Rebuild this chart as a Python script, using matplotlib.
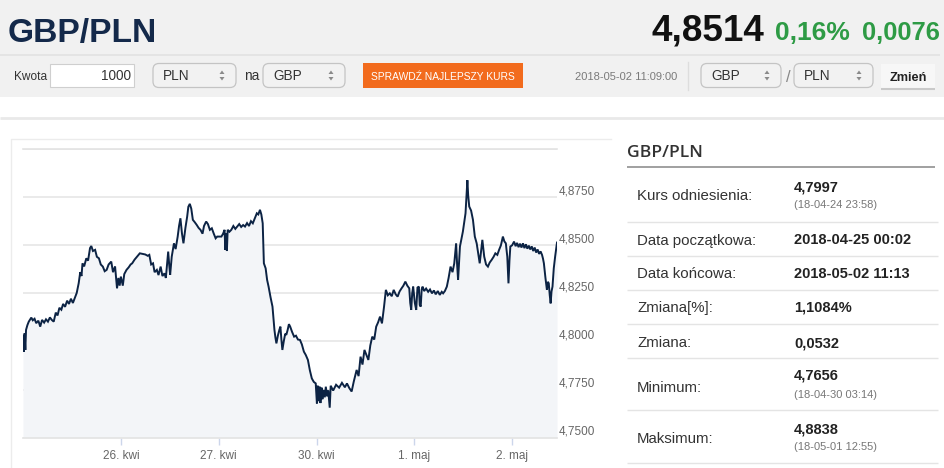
import matplotlib
matplotlib.use("Agg")
import matplotlib.pyplot as plt
from matplotlib.patches import Rectangle, FancyBboxPatch, Polygon
from matplotlib.transforms import ScaledTranslation, blended_transform_factory

# ---------------- data ----------------
pair = "GBP/PLN"
last_rate = "4,8514"
change_pct = "0,16%"
change_abs = "0,0076"
timestamp = "2018-05-02 11:09:00"

# time positions in trading days on the ordinal axis (0 = 25 Apr 00:00) and GBP/PLN rates, per day
pos_apr25 = [0.000, 0.008, 0.016, 0.024, 0.031, 0.045, 0.059, 0.085, 0.100, 0.118,
             0.135, 0.157, 0.176, 0.195, 0.216, 0.235, 0.255, 0.275, 0.294, 0.314,
             0.335, 0.353, 0.372, 0.392, 0.410, 0.430, 0.451, 0.470, 0.490, 0.510,
             0.529, 0.549, 0.569, 0.585, 0.598, 0.608, 0.625, 0.647, 0.665, 0.685,
             0.698, 0.715, 0.737, 0.755, 0.776, 0.795, 0.816, 0.835, 0.855, 0.875,
             0.902, 0.920, 0.941, 0.951, 0.961, 0.975, 0.988]
rate_apr25 = [4.8025, 4.7947, 4.8042, 4.7956, 4.8060, 4.8085, 4.8103, 4.8124, 4.8110, 4.8118,
              4.8095, 4.8108, 4.8077, 4.8112, 4.8098, 4.8115, 4.8103, 4.8125, 4.8112, 4.8103,
              4.8150, 4.8135, 4.8175, 4.8165, 4.8195, 4.8180, 4.8212, 4.8195, 4.8222, 4.8200,
              4.8225, 4.8252, 4.8302, 4.8360, 4.8340, 4.8406, 4.8390, 4.8432, 4.8420, 4.8485,
              4.8496, 4.8470, 4.8476, 4.8440, 4.8432, 4.8400, 4.8389, 4.8365, 4.8372, 4.8400,
              4.8415, 4.8360, 4.8390, 4.8330, 4.8276, 4.8330, 4.8290]

pos_apr26 = [1.000, 1.020, 1.035, 1.058, 1.080, 1.100, 1.116, 1.140, 1.165, 1.194,
             1.220, 1.250, 1.275, 1.291, 1.310, 1.329, 1.345, 1.368, 1.385, 1.407,
             1.425, 1.446, 1.460, 1.472, 1.484, 1.494, 1.504, 1.520, 1.543, 1.560,
             1.581, 1.595, 1.609, 1.625, 1.640, 1.660, 1.678, 1.690, 1.705, 1.720,
             1.736, 1.755, 1.775, 1.795, 1.814, 1.835, 1.850, 1.872, 1.890, 1.910,
             1.930, 1.950, 1.969, 1.985]
rate_apr26 = [4.8337, 4.8290, 4.8350, 4.8372, 4.8385, 4.8400, 4.8406, 4.8425, 4.8440, 4.8458,
              4.8455, 4.8452, 4.8445, 4.8450, 4.8400, 4.8406, 4.8360, 4.8372, 4.8345, 4.8389,
              4.8340, 4.8354, 4.8330, 4.8400, 4.8467, 4.8400, 4.8346, 4.8440, 4.8510, 4.8480,
              4.8545, 4.8600, 4.8640, 4.8560, 4.8510, 4.8590, 4.8649, 4.8700, 4.8715, 4.8690,
              4.8632, 4.8620, 4.8606, 4.8590, 4.8580, 4.8560, 4.8600, 4.8623, 4.8610, 4.8580,
              4.8588, 4.8560, 4.8536, 4.8545]

pos_apr27 = [2.028, 2.045, 2.060, 2.068, 2.076, 2.084, 2.092, 2.110, 2.129, 2.150,
             2.170, 2.189, 2.210, 2.230, 2.250, 2.269, 2.290, 2.310, 2.330, 2.349,
             2.370, 2.390, 2.405, 2.422, 2.436, 2.450, 2.462, 2.480, 2.495, 2.510,
             2.530, 2.550, 2.560, 2.570, 2.580, 2.590, 2.605, 2.620, 2.631, 2.641,
             2.651, 2.665, 2.680, 2.691, 2.705, 2.718, 2.731, 2.750, 2.771, 2.790,
             2.810, 2.831, 2.850, 2.871, 2.890, 2.912, 2.932, 2.952, 2.972, 2.992]
rate_apr27 = [4.8545, 4.8560, 4.8580, 4.8476, 4.8560, 4.8470, 4.8580, 4.8570, 4.8580, 4.8600,
              4.8585, 4.8597, 4.8610, 4.8595, 4.8605, 4.8597, 4.8615, 4.8600, 4.8625, 4.8614,
              4.8640, 4.8666, 4.8660, 4.8684, 4.8660, 4.8614, 4.8406, 4.8380, 4.8320, 4.8285,
              4.8230, 4.8181, 4.8120, 4.8060, 4.8020, 4.7990, 4.8030, 4.8060, 4.8077, 4.8010,
              4.7956, 4.8000, 4.8040, 4.8034, 4.8060, 4.8090, 4.8077, 4.8050, 4.8025, 4.8030,
              4.8010, 4.8008, 4.7985, 4.7947, 4.7930, 4.7904, 4.7850, 4.7808, 4.7790, 4.7782]

pos_apr30 = [3.004, 3.012, 3.020, 3.032, 3.040, 3.052, 3.060, 3.072, 3.085, 3.095,
             3.108, 3.120, 3.135, 3.145, 3.170, 3.200, 3.231, 3.260, 3.290, 3.311,
             3.335, 3.359, 3.380, 3.410, 3.430, 3.450, 3.470, 3.490, 3.510, 3.530,
             3.550, 3.570, 3.590, 3.610, 3.630, 3.649, 3.669, 3.690, 3.709, 3.729,
             3.749, 3.769, 3.789, 3.809, 3.829, 3.849, 3.869, 3.888, 3.908, 3.928,
             3.948, 3.958, 3.968, 3.978, 3.988]
rate_apr30 = [4.7678, 4.7770, 4.7690, 4.7765, 4.7680, 4.7760, 4.7700, 4.7748, 4.7710, 4.7765,
              4.7715, 4.7745, 4.7656, 4.7770, 4.7745, 4.7775, 4.7760, 4.7785, 4.7762, 4.7782,
              4.7758, 4.7740, 4.7790, 4.7852, 4.7820, 4.7921, 4.7880, 4.7956, 4.7930, 4.7904,
              4.7980, 4.8025, 4.8010, 4.8077, 4.8100, 4.8129, 4.8094, 4.8180, 4.8268, 4.8240,
              4.8250, 4.8235, 4.8268, 4.8245, 4.8233, 4.8260, 4.8276, 4.8290, 4.8311, 4.8290,
              4.8276, 4.8200, 4.8164, 4.8250, 4.8285]

pos_may1 = [4.005, 4.019, 4.032, 4.046, 4.055, 4.065, 4.075, 4.084, 4.100, 4.120,
            4.141, 4.160, 4.180, 4.200, 4.218, 4.240, 4.260, 4.280, 4.294, 4.312,
            4.332, 4.350, 4.370, 4.390, 4.408, 4.427, 4.437, 4.447, 4.466, 4.480,
            4.496, 4.510, 4.523, 4.533, 4.542, 4.550, 4.561, 4.580, 4.599, 4.618,
            4.637, 4.652, 4.668, 4.682, 4.695, 4.705, 4.714, 4.733, 4.752, 4.770,
            4.790, 4.810, 4.828, 4.848, 4.866, 4.885, 4.905, 4.920, 4.935, 4.950,
            4.962, 4.972, 4.981]
rate_may1 = [4.8200, 4.8164, 4.8280, 4.8285, 4.8190, 4.8181, 4.8270, 4.8285, 4.8262, 4.8275,
             4.8258, 4.8270, 4.8250, 4.8265, 4.8245, 4.8262, 4.8242, 4.8258, 4.8250, 4.8262,
             4.8285, 4.8330, 4.8389, 4.8360, 4.8406, 4.8510, 4.8400, 4.8320, 4.8493, 4.8530,
             4.8571, 4.8620, 4.8666, 4.8760, 4.8838, 4.8760, 4.8701, 4.8680, 4.8632, 4.8545,
             4.8510, 4.8460, 4.8406, 4.8470, 4.8528, 4.8480, 4.8441, 4.8400, 4.8389, 4.8410,
             4.8424, 4.8440, 4.8458, 4.8450, 4.8476, 4.8500, 4.8545, 4.8520, 4.8510, 4.8440,
             4.8302, 4.8420, 4.8493]

pos_may2 = [5.000, 5.019, 5.035, 5.050, 5.065, 5.080, 5.095, 5.110, 5.125, 5.140,
            5.155, 5.170, 5.185, 5.200, 5.215, 5.230, 5.245, 5.260, 5.275, 5.290,
            5.305, 5.315, 5.324, 5.340, 5.355, 5.365, 5.374, 5.384, 5.393, 5.402,
            5.412, 5.425, 5.439, 5.458]
rate_may2 = [4.8500, 4.8519, 4.8495, 4.8512, 4.8490, 4.8508, 4.8488, 4.8510, 4.8485, 4.8505,
             4.8482, 4.8498, 4.8478, 4.8494, 4.8470, 4.8488, 4.8462, 4.8478, 4.8455, 4.8468,
             4.8450, 4.8430, 4.8406, 4.8330, 4.8268, 4.8310, 4.8302, 4.8240, 4.8198, 4.8260,
             4.8285, 4.8380, 4.8441, 4.8514]

x_tick_pos = [1, 2, 3, 4, 5]
x_tick_labels = ["26. kwi", "27. kwi", "30. kwi", "1. maj", "2. maj"]
y_ticks = [4.75, 4.775, 4.80, 4.825, 4.85, 4.875, 4.90]
y_tick_labels = ["4,7500", "4,7750", "4,8000", "4,8250", "4,8500", "4,8750", ""]

info_labels = ["Kurs odniesienia:", "Data początkowa:", "Data końcowa:", "Zmiana[%]:", "Zmiana:", "Minimum:", "Maksimum:"]
info_values = ["4,7997", "2018-04-25 00:02", "2018-05-02 11:13", "1,1084%", "0,0532", "4,7656", "4,8838"]
info_notes = ["(18-04-24 23:58)", "", "", "", "", "(18-04-30 03:14)", "(18-05-01 12:55)"]

day_pos = pos_apr25 + pos_apr26 + pos_apr27 + pos_apr30 + pos_may1 + pos_may2
rate = rate_apr25 + rate_apr26 + rate_apr27 + rate_apr30 + rate_may1 + rate_may2
for p_, r_ in [(pos_apr25, rate_apr25), (pos_apr26, rate_apr26), (pos_apr27, rate_apr27),
               (pos_apr30, rate_apr30), (pos_may1, rate_may1), (pos_may2, rate_may2)]:
    assert len(p_) == len(r_), (len(p_), len(r_))

# ---------------- page ----------------
W, H = 945, 468
fig = plt.figure(figsize=(9.45, 4.68), dpi=100)
fig.patch.set_facecolor("white")
bg = fig.add_axes([0, 0, 1, 1])
bg.set_xlim(0, W)
bg.set_ylim(H, 0)
bg.axis("off")
renderer = fig.canvas.get_renderer()

SANS = ["Liberation Sans", "DejaVu Sans"]


def rect(x0, y0, x1, y1, fc, ec="none", lw=0.0, z=1):
    bg.add_patch(Rectangle((x0, y0), x1 - x0, y1 - y0, fc=fc, ec=ec, lw=lw, zorder=z))


def rrect(x0, y0, x1, y1, fc, ec, r=5, lw=0.8, z=2):
    bg.add_patch(FancyBboxPatch((x0, y0), x1 - x0, y1 - y0,
                                boxstyle=f"round,pad=0,rounding_size={r}",
                                fc=fc, ec=ec, lw=lw, zorder=z))


def hline(y, x0, x1, c, lw=1.0, z=2):
    bg.plot([x0, x1], [y, y], color=c, lw=lw, zorder=z, solid_capstyle="butt")


def put(x, y, s, size=10, width=None, ha="left", va="baseline", family=SANS, **kw):
    t = bg.text(x, y, s, fontsize=size, ha=ha, va=va, family=family, zorder=5, **kw)
    if width:
        bb = t.get_window_extent(renderer)
        if bb.width > 0:
            t.set_fontsize(size * width / bb.width)
    return t


def select(x0, x1, label):
    rrect(x0, 63.5, x1, 87.5, "#f2f2f2", "#c4c4c4", r=6, lw=0.9)
    put(x0 + 10, 80, label, size=9.8, color="#333333")
    xr = x1 - 14
    bg.add_patch(Polygon([[xr - 2.5, 74], [xr + 2.5, 74], [xr, 70.5]], closed=True, fc="#8a8a8a", ec="none", zorder=4))
    bg.add_patch(Polygon([[xr - 2.5, 77], [xr + 2.5, 77], [xr, 80.5]], closed=True, fc="#8a8a8a", ec="none", zorder=4))


# header band
rect(0, 0, W, 97, "#f1f1f1", z=0)
hline(55, 0, 940, "#e2e2e2", lw=1.2)
hline(118, 0, W, "#e9e9e9", lw=2.0)

put(8, 42, pair, size=30, width=149, weight="bold", color="#14294a")
put(652, 40, last_rate, size=26, width=113, weight="bold", color="#111111")
put(775, 40, change_pct, size=19, width=75, weight="bold", color="#2e9b45")
put(862, 40, change_abs, size=19, width=78, weight="bold", color="#2e9b45")

# controls row
put(14, 80, "Kwota", size=9.5, width=33, color="#333333")
rect(50, 63.5, 134, 86.5, "white", "#cfcfcf", lw=0.8, z=2)
put(131, 80, "1000", size=9.8, ha="right", color="#333333")
select(153, 236, "PLN")
put(244, 80, "na", size=9.8, color="#333333")
select(263, 345, "GBP")
rect(363, 63, 523, 88, "#f26b1d", z=2)
put(443, 79.5, "SPRAWDŹ NAJLEPSZY KURS", size=8.5, width=143, ha="center", color="white")
put(575, 80, timestamp, size=8.5, width=103, color="#7a7a7a")
bg.plot([688, 688], [62, 90], color="#dddddd", lw=1.0, zorder=2)
select(701, 781, "GBP")
put(786, 82, "/", size=12, color="#888888")
select(794, 873, "PLN")
rect(881, 64, 935, 89, "#f7f7f7", z=2)
hline(89, 881, 935, "#c9c9c9", lw=1.5)
put(908, 81, "Zmień", size=9.5, width=38, ha="center", weight="bold", color="#222222")

# chart container border
bg.plot([11, 11, 611], [470, 139, 139], color="#ececec", lw=1.0, zorder=1)

# right info panel
put(627, 157, pair, size=13, width=76, family=["Open Sans", "Liberation Sans"], weight="semibold", color="#333333")
hline(167, 627, 935, "#a0a0a0", lw=1.4)
row_sep = [221.7, 256, 289.5, 323.5, 357.7, 410, 463]
label_base = [200.5, 244.5, 278, 312, 347, 391.5, 443]
value_base = [191, 244.5, 278, 312, 347, 380, 433]
note_base = [207.5, None, None, None, None, 397.5, 450.5]
for i, (lab, val, note) in enumerate(zip(info_labels, info_values, info_notes)):
    put(637, label_base[i], lab, size=10.8, color="#333333")
    put(794, value_base[i], val, size=10.5, weight="bold", color="#222222")
    if note:
        put(794, note_base[i], note, size=8.0, color="#777777")
    hline(row_sep[i], 627, 938, "#e4e4e4", lw=1.0)

# ---------------- chart ----------------
L, R, T, B = 23, 557, 149, 437.7
ax = fig.add_axes([L / W, (H - B) / H, (R - L) / W, (B - T) / H])
ax.patch.set_visible(False)
ax.fill_between(day_pos, rate, 4.75, color="#f3f5f8", lw=0, zorder=1)
ax.plot(day_pos, rate, color="#0c2344", lw=1.4, zorder=3, solid_joinstyle="miter")
ax.set_xlim(0, 5.458)
ax.set_ylim(4.75, 4.90)
ax.set_yticks(y_ticks)
ax.grid(axis="y", color="#e6e6e6", lw=1.2, zorder=0)
ax.set_axisbelow(True)
for s in ["left", "right"]:
    ax.spines[s].set_visible(False)
for s in ["top", "bottom"]:
    ax.spines[s].set_color("#e3e3e3")
    ax.spines[s].set_linewidth(1.2)
ax.tick_params(axis="y", length=0, labelleft=False, labelright=False)
ax.set_xticks(x_tick_pos)
ax.set_xticklabels(x_tick_labels, family=SANS)
ax.tick_params(axis="x", length=5, width=1, color="#ccd6eb", labelsize=8.5, labelcolor="#666666", pad=4)

tr = blended_transform_factory(ax.transAxes, ax.transData) + ScaledTranslation(2 / 100, 6 / 100, fig.dpi_scale_trans)
for v, lab in zip(y_ticks, y_tick_labels):
    if lab:
        ax.text(1.0, v, lab, transform=tr, ha="left", va="center", fontsize=8.5, color="#666666",
                family=SANS, clip_on=False)

fig.savefig("out.png", dpi=100)
